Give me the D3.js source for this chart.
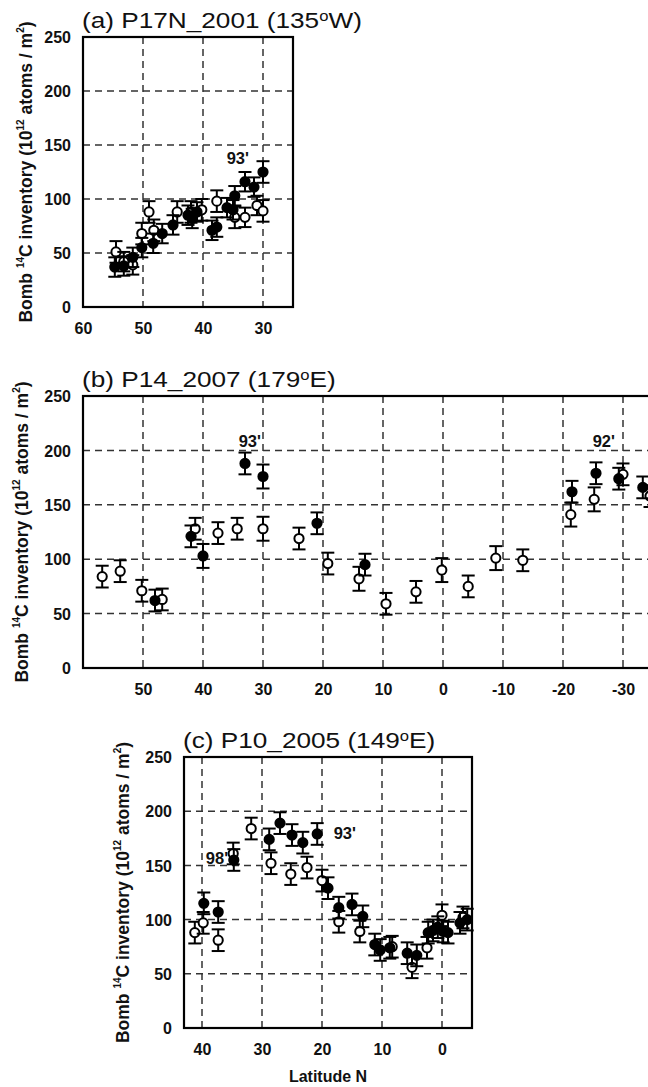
<!DOCTYPE html>
<html>
<head>
<meta charset="utf-8">
<script src="https://cdn.jsdelivr.net/npm/d3@7"></script>
<style>
  body { margin: 0; background: #fff; }
  svg { display: block; font-family: Arial, "Liberation Sans", sans-serif; }
</style>
</head>
<body>
<svg></svg>
<script>
// Tick values
const yTicks = [0, 50, 100, 150, 200, 250];
const xTicksA = [60, 50, 40, 30];
const xTicksB = [50, 40, 30, 20, 10, 0, -10, -20, -30];
const xTicksC = [40, 30, 20, 10, 0];

// [latitude, inventory, error]
const openA = [[54.5, 51, 10], [53.2, 42, 9], [51.7, 39, 9], [50.2, 68, 10], [49, 88, 10], [48.2, 71, 10],
  [44.3, 88, 10], [42, 88, 10], [40.2, 90, 10], [37.7, 98, 10], [34.7, 83, 10], [33, 83, 9], [31, 94, 9], [30, 89, 10]];
const filledA = [[54.7, 37, 9], [53.2, 38, 9], [51.7, 46, 9], [50.2, 55, 9], [48.3, 59, 9], [46.8, 68, 9],
  [45, 76, 9], [42.5, 85, 9], [41.8, 82, 9], [41, 88, 9], [38.5, 71, 9], [37.7, 74, 9], [36, 92, 9],
  [35, 90, 9], [34.7, 103, 9], [33, 116, 9], [31.5, 111, 9], [30, 125, 10]];

const openB = [[56.8, 84, 10], [53.8, 89, 10], [50.2, 71, 10], [46.8, 63, 10], [41.3, 128, 10], [37.5, 124, 10],
  [34.3, 128, 10], [30, 128, 11], [24, 119, 10], [19.2, 96, 10], [14, 82, 11], [9.5, 59, 10], [4.5, 70, 10],
  [0.2, 90, 11], [-4.2, 75, 10], [-8.8, 101, 11], [-13.3, 99, 10], [-21.3, 141, 11], [-25.2, 155, 11],
  [-30, 178, 10], [-34.5, 158, 10]];
const filledB = [[48, 62, 10], [42, 121, 10], [40, 103, 11], [33, 188, 10], [30, 176, 11], [21, 133, 10],
  [13, 95, 10], [-21.5, 162, 10], [-25.5, 179, 10], [-29.3, 174, 10], [-33.3, 166, 10]];

const openC = [[41.2, 88, 10], [39.8, 97, 10], [37.3, 81, 10], [34.8, 161, 10], [31.8, 184, 10], [28.5, 152, 10],
  [25.2, 142, 10], [22.5, 148, 10], [20, 136, 10], [17.2, 98, 10], [13.7, 89, 10], [8.3, 75, 10], [5, 56, 10],
  [2.5, 74, 10], [0, 104, 10], [-3.5, 102, 10]];
const filledC = [[39.7, 115, 10], [37.3, 107, 10], [34.7, 155, 10], [28.8, 174, 10], [27, 189, 10], [25, 178, 10],
  [23.2, 171, 10], [20.8, 179, 10], [19, 129, 10], [17.2, 111, 10], [15, 114, 10], [13.2, 103, 10],
  [11.2, 77, 10], [10.3, 72, 10], [8.7, 74, 10], [5.8, 69, 10], [4.2, 67, 10], [2.3, 88, 10], [1.5, 90, 10],
  [0.7, 93, 10], [-0.2, 89, 10], [-1, 88, 10], [-3, 97, 10], [-4.2, 100, 10]];

// year labels [text, latitude, inventory]
const notesA = [["93'", 34.2, 138]];
const notesB = [["93'", 32.2, 209], ["92'", -26.8, 209]];
const notesC = [["98'", 37.5, 157], ["93'", 16.2, 180]];

const W = 648, H = 1087;
const svg = d3.select("svg").attr("width", W).attr("height", H);
svg.append("rect").attr("width", W).attr("height", H).attr("fill", "#fff");

const panels = [
  { title: ["(a) P17N_2001 (135", "W)"], left: 83, right: 293, top: 37, bottom: 307, lat: [60, 25],
    ticks: xTicksA, open: openA, filled: filledA, notes: notesA, labelX: 26 },
  { title: ["(b) P14_2007 (179", "E)"], left: 83, right: 653, top: 396, bottom: 668, lat: [60, -35],
    ticks: xTicksB, open: openB, filled: filledB, notes: notesB, labelX: 22 },
  { title: ["(c) P10_2005 (149", "E)"], left: 184, right: 472, top: 757, bottom: 1028, lat: [43, -5],
    ticks: xTicksC, open: openC, filled: filledC, notes: notesC, labelX: 123, xlabel: "Latitude N" }
];

panels.forEach(p => {
  const x = d3.scaleLinear().domain(p.lat).range([p.left, p.right]);
  const y = d3.scaleLinear().domain([0, 250]).range([p.bottom, p.top]);
  const g = svg.append("g");

  // dashed grid
  g.selectAll(".vgrid").data(p.ticks.filter(t => x(t) > p.left + 1))
    .enter().append("line")
    .attr("x1", d => x(d)).attr("x2", d => x(d))
    .attr("y1", p.top).attr("y2", p.bottom)
    .attr("stroke", "#333").attr("stroke-width", 1.5).attr("stroke-dasharray", "7,5");
  g.selectAll(".hgrid").data(yTicks.filter(t => t > 0 && t < 250))
    .enter().append("line")
    .attr("x1", p.left).attr("x2", p.right)
    .attr("y1", d => y(d)).attr("y2", d => y(d))
    .attr("stroke", "#333").attr("stroke-width", 1.5).attr("stroke-dasharray", "7,5");

  // frame
  g.append("rect")
    .attr("x", p.left).attr("y", p.top)
    .attr("width", p.right - p.left).attr("height", p.bottom - p.top)
    .attr("fill", "none").attr("stroke", "#000").attr("stroke-width", 2.2);

  // axes labels
  const xAxis = g.append("g")
    .attr("transform", `translate(0,${p.bottom})`)
    .call(d3.axisBottom(x).tickValues(p.ticks).tickFormat(d => String(d)).tickSize(0).tickPadding(16));
  const yAxis = g.append("g")
    .attr("transform", `translate(${p.left},0)`)
    .call(d3.axisLeft(y).tickValues(yTicks).tickSize(0).tickPadding(12));
  [xAxis, yAxis].forEach(a => {
    a.select(".domain").remove();
    a.selectAll("text")
      .attr("fill", "#111").style("font-size", "16px").style("font-weight", "bold")
      .style("font-family", "Arial, 'Liberation Sans', sans-serif");
  });
  yAxis.selectAll("text").attr("dy", "0.36em");

  // title (the original lettering is a bit wider than Arial)
  const t = g.append("text")
    .attr("transform", `translate(${p.left - 1},${p.top - 9}) scale(1.19,1)`)
    .style("font-size", "22px").attr("fill", "#111");
  t.append("tspan").text(p.title[0]);
  t.append("tspan").attr("baseline-shift", "super").style("font-size", "14px").text("o");
  t.append("tspan").text(p.title[1]);

  // y label
  const yl = g.append("text")
    .attr("transform", `translate(${p.labelX},${(p.top + p.bottom) / 2}) rotate(-90)`)
    .attr("text-anchor", "middle").attr("dominant-baseline", "central")
    .style("font-size", "17.5px").style("font-weight", "bold").attr("fill", "#111");
  yl.append("tspan").text("Bomb ");
  yl.append("tspan").attr("baseline-shift", "super").style("font-size", "10px").text("14");
  yl.append("tspan").text("C inventory (10");
  yl.append("tspan").attr("baseline-shift", "super").style("font-size", "10px").text("12");
  yl.append("tspan").text(" atoms / m");
  yl.append("tspan").attr("baseline-shift", "super").style("font-size", "10px").text("2");
  yl.append("tspan").text(")");

  if (p.xlabel) {
    g.append("text")
      .attr("x", (p.left + p.right) / 2).attr("y", p.bottom + 54)
      .attr("text-anchor", "middle")
      .style("font-size", "16px").style("font-weight", "bold").attr("fill", "#111")
      .text(p.xlabel);
  }

  // points with error bars
  const clip = "clip-" + p.top;
  svg.append("clipPath").attr("id", clip).append("rect")
    .attr("x", p.left - 20).attr("y", p.top - 30).attr("width", W - p.left + 20).attr("height", p.bottom - p.top + 60);
  const marks = g.append("g").attr("clip-path", `url(#${clip})`);

  const drawSeries = (data, fill) => {
    const s = marks.append("g").selectAll("g").data(data).enter().append("g");
    s.append("line")
      .attr("x1", d => x(d[0])).attr("x2", d => x(d[0]))
      .attr("y1", d => y(d[1] - d[2])).attr("y2", d => y(d[1] + d[2]))
      .attr("stroke", "#000").attr("stroke-width", 2);
    [-1, 1].forEach(sg => {
      s.append("line")
        .attr("x1", d => x(d[0]) - 6.5).attr("x2", d => x(d[0]) + 6.5)
        .attr("y1", d => y(d[1] + sg * d[2])).attr("y2", d => y(d[1] + sg * d[2]))
        .attr("stroke", "#000").attr("stroke-width", 2);
    });
    s.append("circle")
      .attr("cx", d => x(d[0])).attr("cy", d => y(d[1]))
      .attr("r", 4.6)
      .attr("fill", fill).attr("stroke", "#000").attr("stroke-width", 2);
  };
  drawSeries(p.open, "#fff");
  drawSeries(p.filled, "#000");

  g.selectAll(".note").data(p.notes).enter().append("text")
    .attr("x", d => x(d[1])).attr("y", d => y(d[2]))
    .attr("text-anchor", "middle").attr("dominant-baseline", "central")
    .style("font-size", "16.5px").style("font-weight", "bold").attr("fill", "#111")
    .text(d => d[0]);
});
</script>
</body>
</html>
